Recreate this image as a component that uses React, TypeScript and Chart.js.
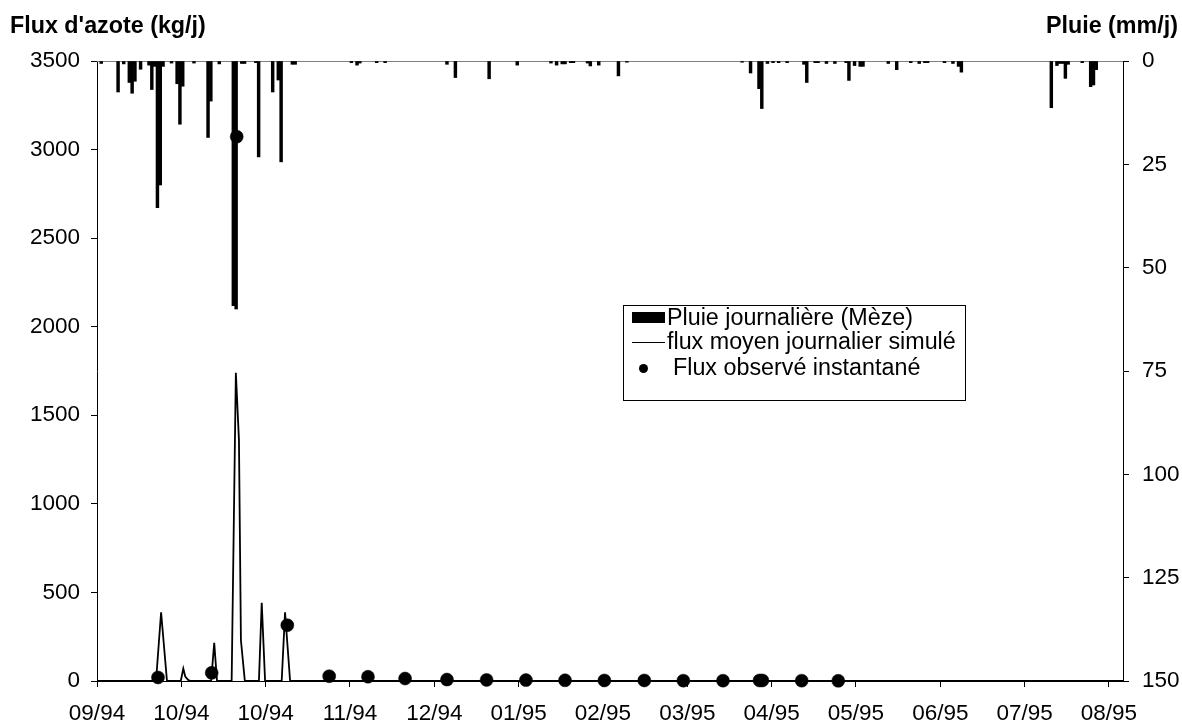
import React, { useEffect, useRef } from "react";
import { Chart, registerables } from "chart.js";

Chart.register(...registerables);

// ---- Axis description ----
const tickLabels = ["09/94", "10/94", "10/94", "11/94", "12/94", "01/95", "02/95", "03/95", "04/95", "05/95", "06/95", "07/95", "08/95"];
const tickIntervalDays = 30; // one tick every 30 days from 1994-09-01
const axisEndDay = 365;

const fluxTitle = "Flux d'azote (kg/j)";
const rainTitle = "Pluie (mm/j)";
const legendLabels = ["Pluie journalière (Mèze)", "flux moyen journalier simulé", "Flux observé instantané"];

// ---- Daily rain (day index from 1994-09-01, mm/j) ----
const rainDays = [1, 7, 9, 11, 12, 13, 15, 18, 19, 20, 21, 22, 23, 26, 28, 29, 30, 34, 39, 40, 43, 48, 49, 51, 52, 56, 57, 62, 64, 65, 69, 70,
  90, 92, 93, 99, 102, 124, 127, 139, 149, 161, 163, 165, 166, 168, 169, 174, 175, 178, 185, 188,
  229, 232, 235, 236, 238, 240, 242, 245, 251, 252, 255, 256, 259, 262, 266, 267, 269, 271, 272, 281, 284, 289, 292, 294, 295, 301, 304, 306, 307,
  339, 341, 342, 343, 344, 345, 350, 353, 354, 355];
const rainMm = [0.6, 7.5, 0.7, 5.2, 7.8, 4.9, 2.0, 1.0, 6.9, 1.3, 35.5, 30.0, 1.3, 0.5, 5.5, 15.3, 6.1, 0.5, 18.5, 9.7, 0.7, 59.2, 60.0, 0.6, 0.6, 0.4, 23.2, 7.5, 4.6, 24.4, 0.8, 0.8,
  0.4, 1.0, 0.5, 0.4, 0.4, 0.8, 4.0, 4.3, 1.0, 0.5, 1.0, 0.7, 0.7, 0.4, 0.4, 0.5, 1.2, 1.0, 3.6, 0.3,
  0.3, 2.9, 6.7, 11.5, 0.6, 0.4, 0.4, 0.4, 0.8, 5.2, 0.4, 0.4, 0.6, 0.6, 0.4, 4.7, 1.1, 1.3, 1.3, 0.6, 2.1, 0.4, 0.6, 0.4, 0.4, 0.4, 0.6, 1.3, 2.7,
  11.3, 1.1, 0.6, 0.6, 4.2, 0.8, 0.4, 6.2, 5.8, 2.1];

// ---- Simulated mean daily flux (kg/j) ----
const simDays = [0, 21.0, 22.8, 24.9, 29.8, 30.7, 31.4, 32.5, 33.5, 40.6, 41.7, 42.7, 47.9, 49.4, 50.5, 51.2, 52.6, 57.6, 58.6, 59.8, 65.7, 66.9, 68.7, 365];
const simFlux = [0, 0, 388, 0, 0, 70, 25, 5, 0, 0, 215, 0, 0, 1740, 1360, 230, 0, 0, 441, 0, 0, 388, 0, 0];

// ---- Observed instantaneous flux (kg/j) ----
const obsDays = [21.7, 40.8, 49.7, 67.7, 82.6, 96.4, 109.6, 124.5, 138.6, 152.6, 166.5, 180.5, 194.7, 208.6, 222.7, 235.7, 236.7, 250.7, 263.7];
const obsFlux = [20, 46, 3073, 315, 27, 24, 14, 8, 6, 5, 4, 3, 3, 2, 2, 3, 3, 2, 1];

const FONT = "'Liberation Sans', Arial, sans-serif";
const TICK_SIZE = 22.5;
const TEXT_SIZE = 23.3;

const overlayPlugin = {
  id: "overlay",
  beforeDatasetsDraw(chart: any) {
    const { ctx, chartArea } = chart;
    ctx.save();
    ctx.strokeStyle = "#808080";
    ctx.lineWidth = 1;
    ctx.beginPath();
    ctx.moveTo(chartArea.left, chartArea.top + 0.5);
    ctx.lineTo(chartArea.right, chartArea.top + 0.5);
    ctx.stroke();
    ctx.restore();
  },
  afterDraw(chart: any) {
    const { ctx } = chart;
    ctx.save();
    ctx.fillStyle = "#000";
    ctx.font = `bold ${TEXT_SIZE}px ${FONT}`;
    ctx.textBaseline = "alphabetic";
    ctx.textAlign = "left";
    ctx.fillText(fluxTitle, 10, 33);
    ctx.textAlign = "right";
    ctx.fillText(rainTitle, 1178, 33);

    // legend box
    const bx = 623.5, by = 305.5, bw = 342, bh = 95;
    ctx.fillStyle = "#fff";
    ctx.fillRect(bx, by, bw, bh);
    ctx.strokeStyle = "#000";
    ctx.lineWidth = 1;
    ctx.strokeRect(bx, by, bw, bh);

    ctx.fillStyle = "#000";
    ctx.fillRect(632, 312, 33, 11);
    ctx.beginPath();
    ctx.moveTo(632, 342.5);
    ctx.lineTo(665, 342.5);
    ctx.stroke();
    ctx.beginPath();
    ctx.arc(643.5, 368.5, 4.5, 0, Math.PI * 2);
    ctx.fill();

    ctx.font = `${TEXT_SIZE}px ${FONT}`;
    ctx.textAlign = "left";
    ctx.textBaseline = "middle";
    ctx.fillText(legendLabels[0], 667, 319);
    ctx.fillText(legendLabels[1], 667, 343);
    ctx.fillText(legendLabels[2], 673, 369);
    ctx.restore();
  },
};

export default function App() {
  const ref = useRef<HTMLCanvasElement | null>(null);

  useEffect(() => {
    if (!ref.current) return;
    Chart.defaults.font.family = FONT;
    Chart.defaults.color = "#000";

    const rainData = rainDays.map((d, i) => ({ x: d + 0.5, y: rainMm[i] }));
    const simData = simDays.map((d, i) => ({ x: d, y: simFlux[i] }));
    const obsData = obsDays.map((d, i) => ({ x: d, y: obsFlux[i] }));

    const chart = new Chart(ref.current, {
      type: "bar",
      data: {
        datasets: [
          {
            type: "scatter",
            label: legendLabels[2],
            data: obsData,
            xAxisID: "x",
            yAxisID: "y",
            pointRadius: 6.5,
            pointBackgroundColor: "#000",
            pointBorderColor: "#000",
            pointBorderWidth: 0.5,
            showLine: false,
            clip: false,
            order: 0,
          } as any,
          {
            type: "line",
            label: legendLabels[1],
            data: simData,
            xAxisID: "x",
            yAxisID: "y",
            borderColor: "#000",
            borderWidth: 1.8,
            pointRadius: 0,
            tension: 0,
            fill: false,
            clip: false,
            order: 1,
          } as any,
          {
            type: "bar",
            label: legendLabels[0],
            data: rainData,
            xAxisID: "x",
            yAxisID: "y2",
            backgroundColor: "#000",
            borderWidth: 0,
            barThickness: 2.8,
            order: 2,
          } as any,
        ],
      },
      options: {
        animation: false,
        responsive: true,
        maintainAspectRatio: false,
        events: [],
        layout: { padding: { top: 61, left: 0, right: 0, bottom: 0 } },
        plugins: { legend: { display: false }, tooltip: { enabled: false }, title: { display: false } },
        scales: {
          x: {
            type: "linear",
            offset: false,
            min: 0,
            max: axisEndDay,
            afterBuildTicks: (scale: any) => {
              scale.ticks = tickLabels.map((_, i) => ({ value: i * tickIntervalDays }));
            },
            afterFit: (scale: any) => {
              scale.height = 46;
              scale.paddingLeft = 0;
              scale.paddingRight = 0;
            },
            ticks: {
              callback: (_v: any, i: number) => tickLabels[i],
              color: "#000",
              font: { size: TICK_SIZE },
              padding: 13,
              maxRotation: 0,
              autoSkip: false,
            },
            grid: { offset: false, drawOnChartArea: false, drawTicks: true, tickLength: 6, color: "#000", lineWidth: 1 },
            border: { display: true, color: "#000", width: 1 },
          },
          y: {
            type: "linear",
            position: "left",
            min: 0,
            max: 3500,
            afterFit: (scale: any) => {
              scale.width = 97;
            },
            ticks: { stepSize: 500, color: "#000", font: { size: TICK_SIZE }, padding: 11, callback: (v: any) => String(v) },
            grid: { drawOnChartArea: false, drawTicks: true, tickLength: 6, color: "#000" },
            border: { display: true, color: "#000", width: 1 },
          },
          y2: {
            type: "linear",
            position: "right",
            min: 0,
            max: 150,
            reverse: true,
            afterFit: (scale: any) => {
              scale.width = 59;
            },
            ticks: { stepSize: 25, color: "#000", font: { size: TICK_SIZE }, padding: 13, callback: (v: any) => String(v) },
            grid: { drawOnChartArea: false, drawTicks: true, tickLength: 6, color: "#000" },
            border: { display: true, color: "#000", width: 1 },
          },
        },
      } as any,
      plugins: [overlayPlugin],
    });
    return () => chart.destroy();
  }, []);

  return (
    <div style={{ position: "fixed", left: 0, top: 0, width: 1182, height: 727, background: "#fff" }}>
      <canvas ref={ref} />
    </div>
  );
}
